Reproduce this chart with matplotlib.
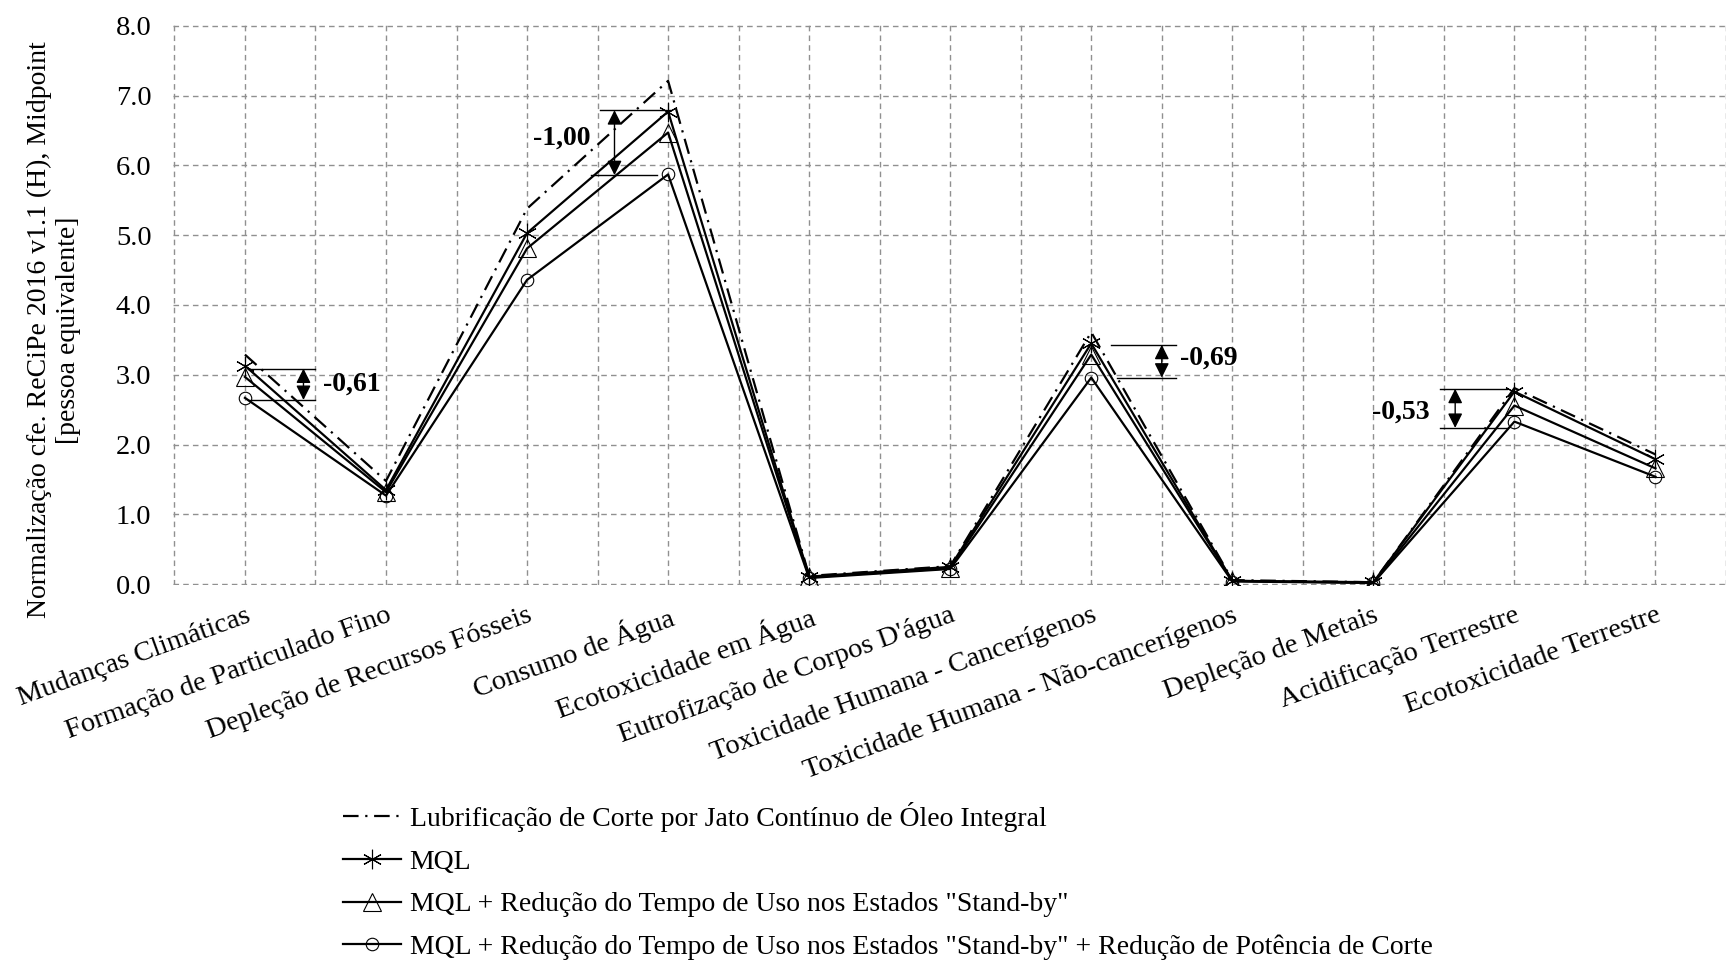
import matplotlib
matplotlib.use("Agg")
import matplotlib.pyplot as plt
import numpy as np

categories = ["Mudanças Climáticas", "Formação de Particulado Fino", "Depleção de Recursos Fósseis",
              "Consumo de Água", "Ecotoxicidade em Água", "Eutrofização de Corpos D'água",
              "Toxicidade Humana - Cancerígenos", "Toxicidade Humana - Não-cancerígenos",
              "Depleção de Metais", "Acidificação Terrestre", "Ecotoxicidade Terrestre"]

lubrificacao = [3.29, 1.48, 5.38, 7.21, 0.12, 0.26, 3.61, 0.06, 0.03, 2.81, 1.86]
mql = [3.13, 1.35, 5.03, 6.77, 0.11, 0.25, 3.45, 0.05, 0.03, 2.76, 1.79]
mql_standby = [2.97, 1.32, 4.81, 6.47, 0.10, 0.23, 3.29, 0.05, 0.02, 2.56, 1.66]
mql_standby_pot = [2.67, 1.27, 4.36, 5.87, 0.09, 0.22, 2.96, 0.04, 0.02, 2.33, 1.54]

labels = ["Lubrificação de Corte por Jato Contínuo de Óleo Integral",
          "MQL",
          "MQL + Redução do Tempo de Uso nos Estados \"Stand-by\"",
          "MQL + Redução do Tempo de Uso nos Estados \"Stand-by\" + Redução de Potência de Corte"]

ann_text = ["-0,61", "-1,00", "-0,69", "-0,53"]
ann_ytop = [3.09, 6.79, 3.43, 2.80]
ann_ybot = [2.64, 5.86, 2.96, 2.24]
ann_xtop = [(0.02, 0.5), (2.52, 3.02), (6.14, 6.60), (8.47, 8.95)]
ann_xbot = [(0.02, 0.5), (2.45, 2.92), (6.18, 6.60), (8.47, 8.95)]
ann_xarrow = [0.415, 2.62, 6.50, 8.58]
ann_xtext = [0.55, 2.45, 6.63, 8.40]
ann_ytext = [2.86, 6.39, 3.24, 2.46]
ann_ha = ["left", "right", "left", "right"]

plt.rcParams['font.family'] = ['Liberation Serif', 'DejaVu Serif']

fig = plt.figure(figsize=(17.26, 9.61), dpi=100)
ax = fig.add_axes([173/1726, 1 - 585/961, 1 - 173/1726, (585 - 25)/961])

x = np.arange(len(categories))
lw = 1.6
ax.plot(x, lubrificacao, color='black', lw=lw, linestyle=(0, (7, 3, 1, 3)), label=labels[0])
ax.plot(x, mql, color='black', lw=lw, marker=(6, 2, 0), markersize=14, markeredgewidth=0.8,
        label=labels[1])
ax.plot(x, mql_standby, color='black', lw=lw, marker='^', markersize=13, markerfacecolor='none',
        markeredgewidth=0.8, label=labels[2])
ax.plot(x, mql_standby_pot, color='black', lw=lw, marker='o', markersize=9, markerfacecolor='none',
        markeredgewidth=0.8, label=labels[3])

for i in range(len(ann_text)):
    ax.plot(ann_xtop[i], [ann_ytop[i]] * 2, color='black', lw=1.0)
    ax.plot(ann_xbot[i], [ann_ybot[i]] * 2, color='black', lw=1.0)
    ax.annotate("", xy=(ann_xarrow[i], ann_ytop[i]), xytext=(ann_xarrow[i], ann_ybot[i]),
                arrowprops=dict(arrowstyle='<|-|>', color='black', lw=1.0, mutation_scale=22,
                                shrinkA=0, shrinkB=0))
    ax.text(ann_xtext[i], ann_ytext[i], ann_text[i], ha=ann_ha[i], va='center',
            fontsize=20, fontweight='bold')

ax.set_xlim(-0.51, 10.42)
ax.set_ylim(-0.01, 8.01)
yt = np.arange(0, 8.01, 1.0)
ax.set_yticks(yt)
ax.set_yticklabels([f"{v:.1f}" for v in yt])
ax.set_xticks(x)
ax.set_xticks(np.arange(-0.5, 10.6, 1.0), minor=True)
ax.set_xticklabels(categories, rotation=20, ha='right', rotation_mode='anchor')
ax.tick_params(axis='both', which='both', length=0, labelsize=20.5)
ax.tick_params(axis='y', pad=15.5)
ax.tick_params(axis='x', pad=13)
for s in ax.spines.values():
    s.set_visible(False)
grid_kw = dict(color='#909090', linestyle=(0, (4, 3)), lw=1.0)
ax.grid(True, which='major', axis='both', **grid_kw)
ax.grid(True, which='minor', axis='x', **grid_kw)
ax.set_axisbelow(True)

fig.text(54/1726, 1 - 330/961,
         "Normalização cfe. ReCiPe 2016 v1.1 (H), Midpoint\n[pessoa equivalente]",
         rotation=90, ha='center', va='center', fontsize=20, multialignment='center',
         linespacing=1.25)

fig.legend(loc='upper left', bbox_to_anchor=(343/1726, 1 - 802/961), frameon=False,
           fontsize=20, handlelength=2.1, handletextpad=0.3, labelspacing=0.62,
           borderpad=0, borderaxespad=0)

fig.savefig("out.png", dpi=100)
